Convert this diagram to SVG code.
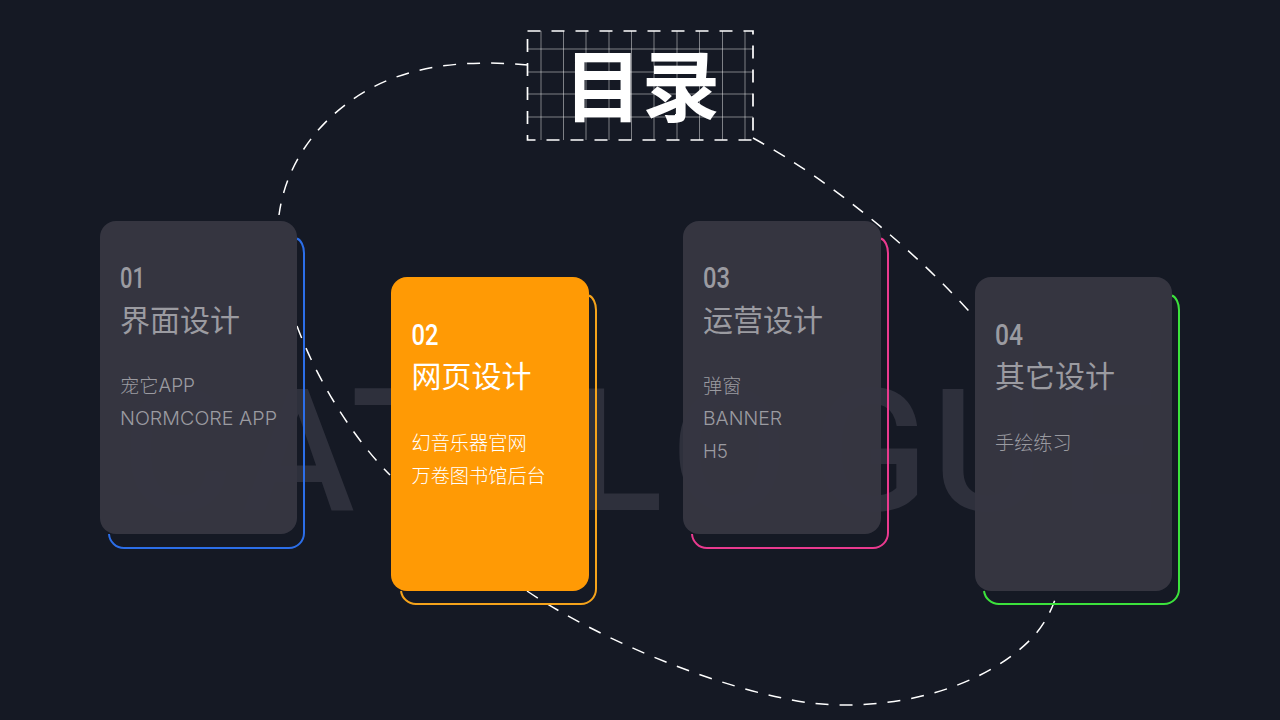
<svg xmlns="http://www.w3.org/2000/svg" width="1280" height="720" viewBox="0 0 1280 720">
<style>
.cjk{font-family:"Noto Sans CJK SC","Noto Sans",sans-serif}
.bg{font-family:Roboto,"Liberation Sans",sans-serif;font-size:170px;font-weight:500;fill:#2e303c}
.num{font-family:Roboto,"Liberation Sans",sans-serif;font-size:29px;font-weight:500;fill:#9b9ba1}
.ttl{font-family:"Noto Sans CJK SC","Noto Sans",sans-serif;font-size:30px;font-weight:400;fill:#9b9ba1}
.sub{font-family:"Noto Sans CJK SC","Noto Sans",sans-serif;font-size:19.200px;font-weight:300;fill:#9b9ba1}
.lat{font-family:Inter,"Liberation Sans",sans-serif;font-size:19px;font-weight:300;fill:#9b9ba1}
.card{fill:#363641;fill-opacity:.985}
.out{fill:none;stroke-width:2}
.dash{fill:none;stroke:#fff;stroke-width:1.500;stroke-dasharray:13 11}
.grid{stroke:#fff;stroke-opacity:.45;stroke-width:1;fill:none}
</style>
<rect width="1280" height="720" fill="#151924"/>
<text class="bg" y="510" x="122 242 351 468 571 671 812 932 1060">CATALOGUE</text>
<g id="connectors">
<path class="dash" d="M528 65C470 60 400 62 345 105C310 132 285 170 279 215"/>
<path class="dash" d="M297 326C315 375 350 435 390 475"/>
<path class="dash" d="M527 591C600 640 720 690 810 703C890 712 980 690 1030 640C1045 625 1053 608 1058 590"/>
<path class="dash" d="M753 138C830 180 915 250 975 318"/>
</g>
<g id="title">
<path class="grid" d="M541 31V140M563.500 31V140M586 31V140M609 31V140M631.500 31V140M654 31V140M677 31V140M699.500 31V140M722.500 31V140M745 31V140M527 49H753M527 72H753M527 94H753M527 117H753"/>
<rect x="527.500" y="31" width="225.500" height="109" fill="none" stroke="#fff" stroke-width="1.700" stroke-dasharray="13 11"/>
<text class="cjk" x="642" y="116" text-anchor="middle" font-size="78" font-weight="700" fill="#fff">目录</text>
</g>
<g id="card-01">
<path class="out" stroke="#2c6ee8" d="M297 238.500C301 240 304 246 304 253V533A15 15 0 0 1 289 548H124A15 15 0 0 1 109 534"/>
<rect class="card" x="100" y="221" width="197" height="313" rx="16"/>
<text class="num" x="120" y="288" textLength="25" lengthAdjust="spacingAndGlyphs">01</text>
<text class="ttl" x="120" y="331">界面设计</text>
<text class="sub" x="120" y="393">宠它<tspan class="lat" y="392">APP</tspan></text>
<text class="lat" x="120" y="425" textLength="157" lengthAdjust="spacingAndGlyphs">NORMCORE APP</text>
</g>
<g id="card-02">
<path class="out" stroke="#f5a31b" d="M589 295.500C593 297 596 303 596 310V589A15 15 0 0 1 581 604H416A15 15 0 0 1 401 591"/>
<rect x="391" y="277" width="198" height="314" rx="16" fill="#ff9a05"/>
<text class="num" x="411.500" y="345" textLength="27" lengthAdjust="spacingAndGlyphs" style="fill:#fff">02</text>
<text class="ttl" x="411.500" y="387" style="fill:#fff">网页设计</text>
<text class="sub" x="411.500" y="450" style="fill:#fff">幻音乐器官网</text>
<text class="sub" x="411.500" y="483" style="fill:#fff">万卷图书馆后台</text>
</g>
<g id="card-03">
<path class="out" stroke="#ea3a8f" d="M881 238.500C885 240 888 246 888 253V533A15 15 0 0 1 873 548H707A15 15 0 0 1 692 534"/>
<rect class="card" x="683" y="221" width="198" height="313" rx="16"/>
<text class="num" x="703" y="288" textLength="27" lengthAdjust="spacingAndGlyphs">03</text>
<text class="ttl" x="703" y="331">运营设计</text>
<text class="sub" x="703" y="393">弹窗</text>
<text class="lat" x="703" y="425" textLength="79" lengthAdjust="spacingAndGlyphs">BANNER</text>
<text class="lat" x="703" y="458" textLength="25" lengthAdjust="spacingAndGlyphs">H5</text>
</g>
<g id="card-04">
<path class="out" stroke="#3ce23c" d="M1172 295.500C1176 297 1179 303 1179 310V589A15 15 0 0 1 1164 604H999A15 15 0 0 1 984 591"/>
<rect class="card" x="975" y="277" width="197" height="314" rx="16"/>
<text class="num" x="995" y="345" textLength="28" lengthAdjust="spacingAndGlyphs">04</text>
<text class="ttl" x="995" y="387">其它设计</text>
<text class="sub" x="995" y="450">手绘练习</text>
</g>
</svg>
